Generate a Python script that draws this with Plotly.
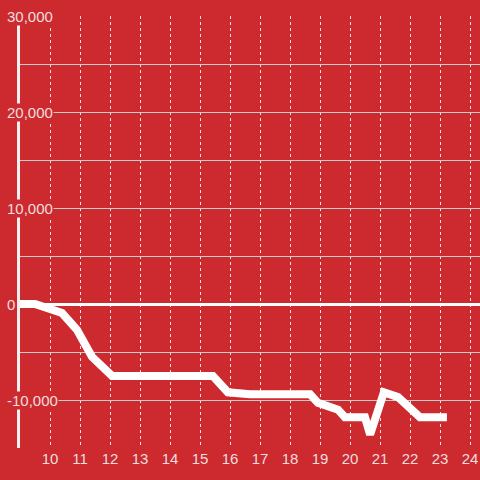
import plotly.graph_objects as go

# 시간(시) / 누적값
hours = [9.0, 9.5, 10.4, 10.9, 11.4, 12.07, 15.43, 15.93, 16.67, 18.67, 18.93,
         19.6, 19.83, 20.5, 20.67, 21.13, 21.6, 22.33, 23.23]
values = [0, 0, -940, -2700, -5500, -7500, -7500, -9200, -9400, -9400, -10300,
          -11000, -11800, -11800, -13600, -9200, -9700, -11800, -11800]

x_ticks = list(range(10, 25))
y_ticks = [-10000, 0, 10000, 20000, 30000]
y_labels = ["-10,000", "0", "10,000", "20,000", "30,000"]

BG = "#cc2a2f"
TXT = "#f2dede"

fig = go.Figure()
fig.add_trace(go.Scatter(
    x=hours, y=values, mode="lines",
    line=dict(color="white", width=8),
    hoverinfo="skip", showlegend=False,
))

# y 라벨은 배경색 박스로 축선을 가리도록 annotation 처리
for v, lab in zip(y_ticks, y_labels):
    fig.add_annotation(
        x=-0.031, xref="paper", y=v, yref="y", text=lab,
        showarrow=False, xanchor="left", yanchor="middle",
        font=dict(size=15, color=TXT, family="Liberation Sans, Arial"),
        bgcolor=BG, borderpad=0,
    )

fig.update_layout(
    width=480, height=480,
    margin=dict(l=20, r=0, t=16, b=32),
    paper_bgcolor=BG, plot_bgcolor=BG,
    font=dict(family="Liberation Sans, Arial", color=TXT, size=15),
    xaxis=dict(
        range=[9, 24.333], tickvals=x_ticks, showgrid=True,
        gridcolor="rgba(255,255,255,0.85)", gridwidth=1, griddash="dot",
        zeroline=False, showline=False, ticks="", ticklen=0,
        tickfont=dict(size=15, color=TXT),
    ),
    yaxis=dict(
        range=[-15000, 30000], dtick=5000, showticklabels=False,
        showgrid=True, gridcolor="#cccccc", gridwidth=1,
        zeroline=True, zerolinecolor="white", zerolinewidth=3,
        showline=True, linecolor="#f4eeee", linewidth=3, ticks="",
    ),
)

fig.write_html("out.html", config={"displayModeBar": False},
               post_script="document.body.style.margin='0';")
